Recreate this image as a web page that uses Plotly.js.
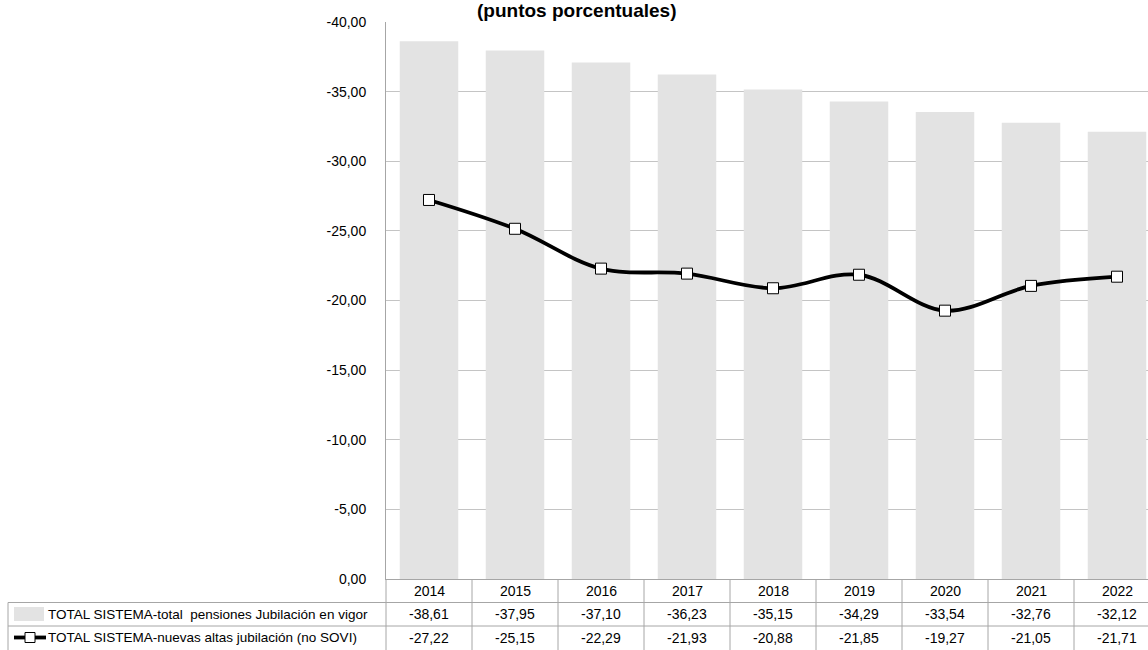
<!DOCTYPE html>
<html>
<head>
<meta charset="utf-8">
<script src="https://cdn.plot.ly/plotly-3.0.1.min.js"></script>
<style>
html,body{margin:0;padding:0;overflow:hidden;background:#fff;}
#chart{width:1170px;height:650px;}
</style>
</head>
<body>
<div id="chart"></div>
<script>
const years = ['2014','2015','2016','2017','2018','2019','2020','2021','2022'];
const pensionesVigor = [-38.61,-37.95,-37.10,-36.23,-35.15,-34.29,-33.54,-32.76,-32.12];
const nuevasAltas = [-27.22,-25.15,-22.29,-21.93,-20.88,-21.85,-19.27,-21.05,-21.71];
const yTicks = [-40,-35,-30,-25,-20,-15,-10,-5,0];
const seriesNames = ['TOTAL SISTEMA-total \u00a0pensiones Jubilación en vigor',
                     'TOTAL SISTEMA-nuevas altas jubilación (no SOVI)'];
const titleText = '(puntos porcentuales)';

const fmt = v => v.toFixed(2).replace('.', ',');

const W = 1170, H = 650, ML = 386, MT = 22, MB = 71, MR = 10;
const PW = W - ML - MR, PH = H - MT - MB;
const py = p => (H - MB - p) / PH;      // pixel y -> paper y
const px = p => (p - ML) / PW;          // pixel x -> paper x

const lineCol = '#a6a6a6';
const font = 'Liberation Sans, Arial, sans-serif';

const traces = [
  {type:'bar', x: years, y: pensionesVigor, name: seriesNames[0],
   marker:{color:'#e3e3e3', line:{width:0}}, width:0.68, hoverinfo:'x+y'},
  {type:'scatter', mode:'lines+markers', x: years, y: nuevasAltas, name: seriesNames[1],
   line:{color:'#000', width:3.8, shape:'spline', smoothing:1},
   marker:{symbol:'square', size:11, color:'#fff', line:{color:'#000', width:1}}}
];

const rowY = [590.5, 614, 637.5];
const annotations = [];
const shapes = [];

// title
annotations.push({xref:'paper', yref:'paper', x:px(577), y:py(11), text:'<b>'+titleText+'</b>',
  showarrow:false, xanchor:'center', yanchor:'middle', font:{family:font, size:19, color:'#000'}});

// table header (years) and values
years.forEach((yr, i) => {
  annotations.push({xref:'x', yref:'paper', x:i, y:py(rowY[0]), text:yr, showarrow:false,
    xanchor:'center', yanchor:'middle', font:{family:font, size:14, color:'#000'}});
  annotations.push({xref:'x', yref:'paper', x:i, y:py(rowY[1]), text:fmt(pensionesVigor[i]), showarrow:false,
    xanchor:'center', yanchor:'middle', font:{family:font, size:14, color:'#000'}});
  annotations.push({xref:'x', yref:'paper', x:i, y:py(rowY[2]), text:fmt(nuevasAltas[i]), showarrow:false,
    xanchor:'center', yanchor:'middle', font:{family:font, size:14, color:'#000'}});
});
// legend texts
seriesNames.forEach((n, k) => {
  annotations.push({xref:'paper', yref:'paper', x:px(46), y:py(rowY[k+1]), text:n, showarrow:false,
    xanchor:'left', yanchor:'middle', font:{family:font, size:13.5, color:'#000'}});
});

// table grid lines
const L = {color:lineCol, width:1};
shapes.push({type:'line', xref:'paper', yref:'paper', x0:px(8), x1:1, y0:py(602.5), y1:py(602.5), line:L});
shapes.push({type:'line', xref:'paper', yref:'paper', x0:px(8), x1:1, y0:py(626), y1:py(626), line:L});
shapes.push({type:'line', xref:'paper', yref:'paper', x0:px(8), x1:px(8), y0:py(602.5), y1:py(652), line:L});
shapes.push({type:'line', xref:'paper', yref:'paper', x0:0, x1:0, y0:0, y1:py(652), line:L});
for (let i = 0; i < years.length; i++) {
  shapes.push({type:'line', xref:'x', yref:'paper', x0:i+0.5, x1:i+0.5, y0:0, y1:py(652), line:L});
}
// legend keys
shapes.push({type:'rect', xref:'paper', yref:'paper', x0:px(14), x1:px(44), y0:py(607), y1:py(621),
  fillcolor:'#e3e3e3', line:{width:0}});
shapes.push({type:'line', xref:'paper', yref:'paper', x0:px(14), x1:px(46), y0:py(637.5), y1:py(637.5),
  line:{color:'#000', width:3.8}});
shapes.push({type:'rect', xref:'paper', yref:'paper', x0:px(25), x1:px(35), y0:py(632.5), y1:py(642.5),
  fillcolor:'#fff', line:{color:'#000', width:1}});

const layout = {
  width: W, height: H,
  margin:{l:ML, r:MR, t:MT, b:MB, pad:0},
  paper_bgcolor:'#fff', plot_bgcolor:'#fff',
  showlegend:false,
  bargap:0.32,
  xaxis:{type:'category', showticklabels:false, ticks:'', showgrid:false, zeroline:false,
    showline:true, linecolor:lineCol, linewidth:1, range:[-0.5, years.length-0.5], fixedrange:true},
  yaxis:{range:[0,-40], tickvals:yTicks, ticktext:yTicks.map(fmt), showgrid:true, gridcolor:'#c4c4c4', gridwidth:1,
    zeroline:false, showline:true, linecolor:lineCol, linewidth:1, ticks:'outside', ticklen:16,
    tickcolor:'rgba(0,0,0,0)', tickfont:{family:font, size:14, color:'#000'}, fixedrange:true},
  annotations, shapes
};

Plotly.newPlot('chart', traces, layout, {displayModeBar:false, staticPlot:true});
</script>
</body>
</html>
